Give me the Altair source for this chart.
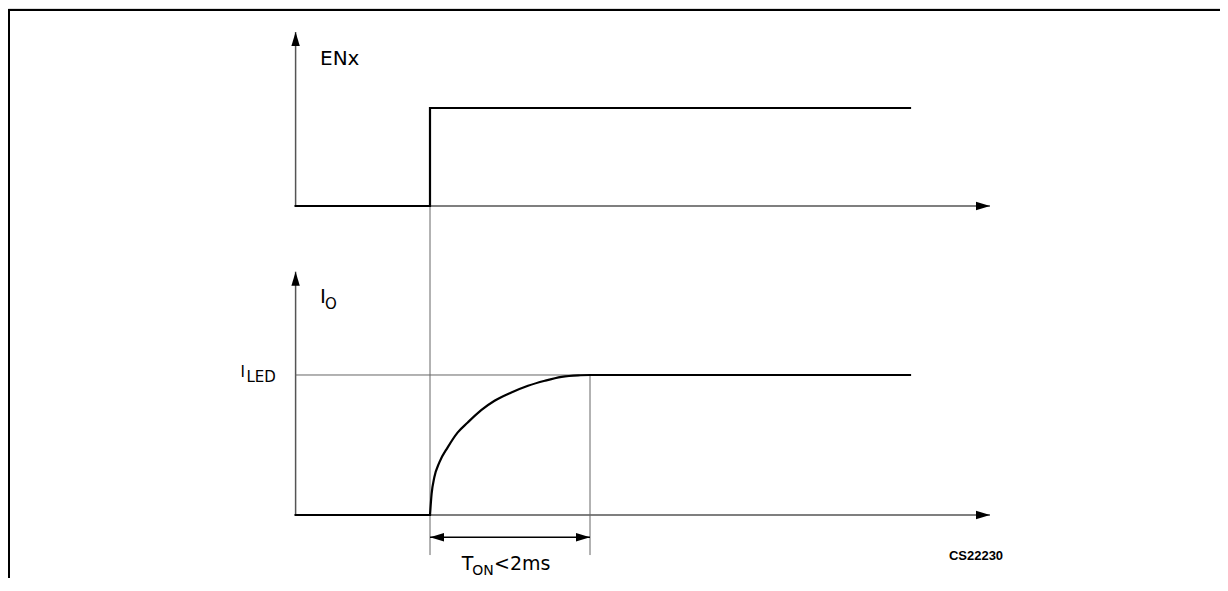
import altair as alt
import pandas as pd

# ---------------- data (time in ms, t = 0 at the ENx rising edge) ----------------
T_ORIGIN = -1.68        # where both time axes start
T_AXIS_END = 7.0        # arrow tips of the time axes
T_SIGNAL_END = 6.0      # where the drawn waveforms stop
T_ON = 2.0              # settling time of I_O

# vertical diagram units: lower panel I_O (I_LED = 1), ENx panel stacked above
EN_BASE = 2.207
EN_AMP = 0.7
EN_AXIS_TOP = 3.45
IO_AXIS_TOP = 1.738
DIM_V = -0.159          # dimension line T_ON
EXT_V = -0.286          # bottom of the extension lines

en_t = [T_ORIGIN, 0.0, 0.0, T_SIGNAL_END]
en_level = [0, 0, 1, 1]

io_low_t = [T_ORIGIN, 0.0]
io_low_level = [0, 0]

rise_t = [0.0, 0.020, 0.054, 0.117, 0.221, 0.347, 0.472, 0.640, 0.807, 1.017,
          1.225, 1.435, 1.645, 1.853, 2.0]
rise_level = [0.0, 0.150, 0.269, 0.376, 0.483, 0.590, 0.661, 0.749, 0.816, 0.875,
              0.923, 0.959, 0.987, 0.998, 1.0]

io_high_t = [T_ON, T_SIGNAL_END]
io_high_level = [1, 1]

label_text = ["ENx", "I", "O", "I", "LED", "T", "ON", "<2ms"]
label_t = [-1.375, -1.375, -1.3125, -2.37, -2.294, 0.396, 0.527, 0.80]
label_v = [3.214, 1.514, 1.471, 0.984, 0.952, -0.393, -0.4286, -0.393]
label_size = [20, 20, 15, 15, 15, 19, 14, 19]

code_text = ["CS22230"]
code_t = [6.825]
code_v = [-0.321]

# ---------------- layout ----------------
W, H = 1212, 570
X_DOMAIN = [-5.275, 9.875]
Y_DOMAIN = [-0.45, 3.6214]

xs = alt.Scale(domain=X_DOMAIN, nice=False, zero=False)
ys = alt.Scale(domain=Y_DOMAIN, nice=False, zero=False)

def X(f="t"):
    return alt.X(f"{f}:Q", scale=xs, axis=None)

def Y(f="v"):
    return alt.Y(f"{f}:Q", scale=ys, axis=None)

en_df = pd.DataFrame({"t": en_t, "v": [EN_BASE + EN_AMP * l for l in en_level],
                      "idx": list(range(len(en_t)))})
low_df = pd.DataFrame({"t": io_low_t, "v": io_low_level})
rise_df = pd.DataFrame({"t": rise_t, "v": rise_level})
high_df = pd.DataFrame({"t": io_high_t, "v": io_high_level})

axes_df = pd.DataFrame({
    "t": [T_ORIGIN, T_ORIGIN, T_ORIGIN, T_ORIGIN],
    "t2": [T_ORIGIN, T_AXIS_END, T_ORIGIN, T_AXIS_END],
    "v": [EN_BASE, EN_BASE, 0.0, 0.0],
    "v2": [EN_AXIS_TOP, EN_BASE, IO_AXIS_TOP, 0.0],
})

thin_df = pd.DataFrame({
    "t": [0.0, T_ON, T_ORIGIN],
    "t2": [0.0, T_ON, T_ON],
    "v": [EN_BASE + EN_AMP, 1.0, 1.0],
    "v2": [EXT_V, EXT_V, 1.0],
})

dim_df = pd.DataFrame({"t": [0.0], "t2": [T_ON], "v": [DIM_V], "v2": [DIM_V]})

UP = "M0,0L-0.6,2L0.6,2Z"
RIGHT = "M0,0L-2,-0.6L-2,0.6Z"
LEFT = "M0,0L2,-0.6L2,0.6Z"
arrow_df = pd.DataFrame({
    "t": [T_ORIGIN, T_ORIGIN, T_AXIS_END, T_AXIS_END, 0.0, T_ON],
    "v": [EN_AXIS_TOP, IO_AXIS_TOP, EN_BASE, 0.0, DIM_V, DIM_V],
    "shape": [UP, UP, RIGHT, RIGHT, LEFT, RIGHT],
})

labels_df = pd.DataFrame({"t": label_t, "v": label_v, "text": label_text,
                          "size": label_size})
code_df = pd.DataFrame({"t": code_t, "v": code_v, "text": code_text})

base = alt.Chart()

frame_top = base.mark_rule(color="black", strokeWidth=2).encode(
    x=alt.value(0), x2=alt.value(W), y=alt.value(2))
frame_left = base.mark_rule(color="black", strokeWidth=2).encode(
    x=alt.value(1), y=alt.value(1), y2=alt.value(H))

axes = alt.Chart(axes_df).mark_rule(color="#555555", strokeWidth=1.5).encode(
    x=X(), x2="t2:Q", y=Y(), y2="v2:Q")
thin = alt.Chart(thin_df).mark_rule(color="#666666", strokeWidth=1).encode(
    x=X(), x2="t2:Q", y=Y(), y2="v2:Q")
dim = alt.Chart(dim_df).mark_rule(color="black", strokeWidth=1.3).encode(
    x=X(), x2="t2:Q", y=Y(), y2="v2:Q")

sig = dict(color="black", strokeWidth=2.2, strokeJoin="miter", strokeCap="square")
en_line = alt.Chart(en_df).mark_line(interpolate="linear", **sig).encode(
    x=X(), y=Y(), order=alt.Order("idx:Q"))
low_line = alt.Chart(low_df).mark_line(interpolate="linear", **sig).encode(x=X(), y=Y())
rise_line = alt.Chart(rise_df).mark_line(interpolate="monotone", color="black",
                                         strokeWidth=2.2).encode(x=X(), y=Y())
high_line = alt.Chart(high_df).mark_line(interpolate="linear", **sig).encode(x=X(), y=Y())

arrows = alt.Chart(arrow_df).mark_point(filled=True, opacity=1, size=196,
                                        color="black", strokeWidth=0).encode(
    x=X(), y=Y(), shape=alt.Shape("shape:N", scale=None, legend=None))

labels = alt.Chart(labels_df).mark_text(align="left", baseline="alphabetic",
                                        font="DejaVu Sans", color="black").encode(
    x=X(), y=Y(), text="text:N", size=alt.Size("size:Q", scale=None, legend=None))

code = alt.Chart(code_df).mark_text(align="center", baseline="alphabetic",
                                    font="Liberation Sans", fontWeight="bold",
                                    fontSize=13, color="black").encode(
    x=X(), y=Y(), text="text:N")

chart = alt.layer(frame_top, frame_left, axes, thin, dim, en_line, low_line,
                  rise_line, high_line, arrows, labels, code).properties(
    width=W, height=H, padding=0, autosize=alt.AutoSizeParams(type="none")
).configure_view(stroke=None).configure(background="white")

chart.save("out.html", embed_options={"renderer": "svg", "actions": False})
